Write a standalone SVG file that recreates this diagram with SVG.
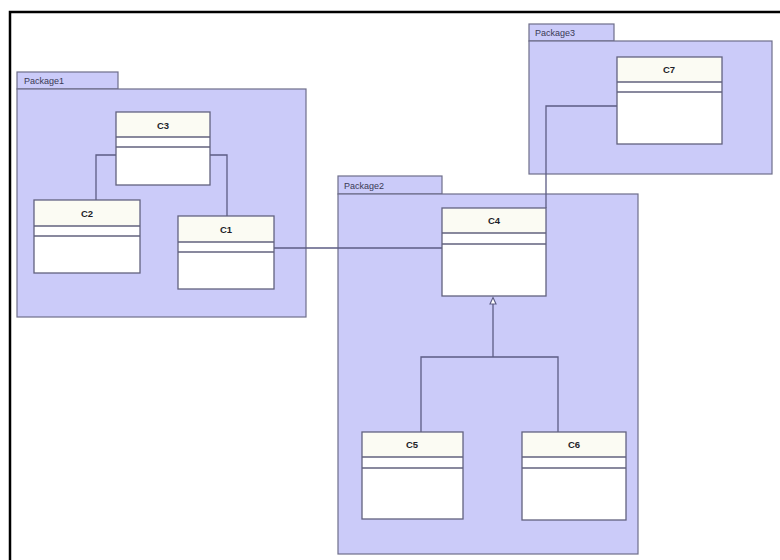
<svg xmlns="http://www.w3.org/2000/svg" width="780" height="560" viewBox="0 0 780 560">
  <style>
    .frame { fill: none; stroke: #000; stroke-width: 2.5; }
    .pkg { fill: #cbcbf9; stroke: #6e6e8a; stroke-width: 1.2; }
    .pkg-label { font-family: "Liberation Sans", Arial, sans-serif; font-size: 9px; fill: #3a3a55; }
    .cls { fill: #ffffff; stroke: #62627e; stroke-width: 1.3; }
    .cls-head { fill: #fbfbf3; stroke: none; }
    .cls-sep { stroke: #62627e; stroke-width: 1.3; }
    .cls-name { font-family: "Liberation Sans", Arial, sans-serif; font-size: 9.5px; font-weight: bold; fill: #1e1e28; text-anchor: middle; }
    .link { fill: none; stroke: #5c5c84; stroke-width: 1.3; }
    .gen-head { fill: #ffffff; stroke: #5c5c84; stroke-width: 1.1; }
  </style>

  <rect width="780" height="560" fill="#ffffff"/>
  <!-- drawing frame, running off the right and bottom edges -->
  <path class="frame" d="M10,565 L10,12 L785,12"/>

  <!-- packages -->
  <g id="package1">
    <rect class="pkg" x="17" y="72" width="101" height="17"/>
    <rect class="pkg" x="17" y="89" width="289" height="228"/>
    <text class="pkg-label" x="24" y="84">Package1</text>
  </g>
  <g id="package2">
    <rect class="pkg" x="338" y="176" width="104" height="18"/>
    <rect class="pkg" x="338" y="194" width="300" height="360"/>
    <text class="pkg-label" x="344" y="189">Package2</text>
  </g>
  <g id="package3">
    <rect class="pkg" x="529" y="24" width="85" height="17"/>
    <rect class="pkg" x="529" y="41" width="243" height="133"/>
    <text class="pkg-label" x="535" y="36">Package3</text>
  </g>

  <!-- connectors -->
  <g id="connectors">
    <path class="link" d="M116,155 L96,155 L96,200"/>
    <path class="link" d="M210,155 L227,155 L227,216"/>
    <path class="link" d="M274,248 L442,248"/>
    <path class="link" d="M546,208 L546,106 L617,106"/>
    <path class="link" d="M493,357 L493,304"/>
    <path class="gen-head" d="M493,297.5 L496,304 L490,304 Z"/>
    <path class="link" d="M421,432 L421,357 L558,357 L558,432"/>
  </g>

  <!-- classes -->
  <g id="C3">
    <rect class="cls" x="116" y="112" width="94" height="73"/>
    <rect class="cls-head" x="117" y="113" width="92" height="24"/>
    <line class="cls-sep" x1="116" y1="137" x2="210" y2="137"/>
    <line class="cls-sep" x1="116" y1="147" x2="210" y2="147"/>
    <text class="cls-name" x="163" y="129">C3</text>
  </g>
  <g id="C2">
    <rect class="cls" x="34" y="200" width="106" height="73"/>
    <rect class="cls-head" x="35" y="201" width="104" height="25"/>
    <line class="cls-sep" x1="34" y1="226" x2="140" y2="226"/>
    <line class="cls-sep" x1="34" y1="236" x2="140" y2="236"/>
    <text class="cls-name" x="87" y="217">C2</text>
  </g>
  <g id="C1">
    <rect class="cls" x="178" y="216" width="96" height="73"/>
    <rect class="cls-head" x="179" y="217" width="94" height="25"/>
    <line class="cls-sep" x1="178" y1="242" x2="274" y2="242"/>
    <line class="cls-sep" x1="178" y1="252" x2="274" y2="252"/>
    <text class="cls-name" x="226" y="233">C1</text>
  </g>
  <g id="C4">
    <rect class="cls" x="442" y="208" width="104" height="88"/>
    <rect class="cls-head" x="443" y="209" width="102" height="24"/>
    <line class="cls-sep" x1="442" y1="233" x2="546" y2="233"/>
    <line class="cls-sep" x1="442" y1="244" x2="546" y2="244"/>
    <text class="cls-name" x="494" y="224">C4</text>
  </g>
  <g id="C5">
    <rect class="cls" x="362" y="432" width="101" height="87"/>
    <rect class="cls-head" x="363" y="433" width="99" height="24"/>
    <line class="cls-sep" x1="362" y1="457" x2="463" y2="457"/>
    <line class="cls-sep" x1="362" y1="468" x2="463" y2="468"/>
    <text class="cls-name" x="412" y="448">C5</text>
  </g>
  <g id="C6">
    <rect class="cls" x="522" y="432" width="104" height="88"/>
    <rect class="cls-head" x="523" y="433" width="102" height="24"/>
    <line class="cls-sep" x1="522" y1="457" x2="626" y2="457"/>
    <line class="cls-sep" x1="522" y1="468" x2="626" y2="468"/>
    <text class="cls-name" x="574" y="448">C6</text>
  </g>
  <g id="C7">
    <rect class="cls" x="617" y="57" width="105" height="87"/>
    <rect class="cls-head" x="618" y="58" width="103" height="24"/>
    <line class="cls-sep" x1="617" y1="82" x2="722" y2="82"/>
    <line class="cls-sep" x1="617" y1="92" x2="722" y2="92"/>
    <text class="cls-name" x="669" y="73">C7</text>
  </g>
</svg>
